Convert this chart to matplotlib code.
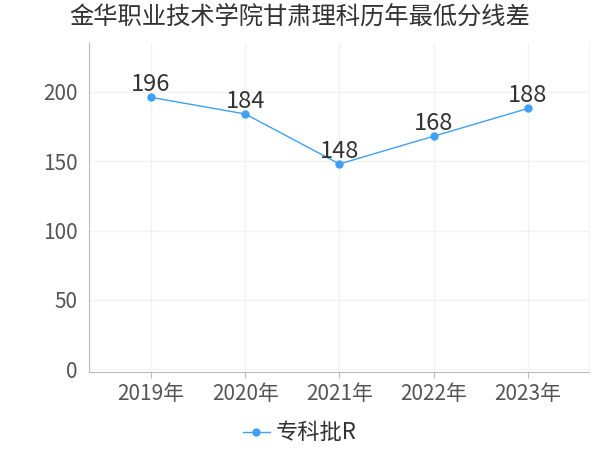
import matplotlib
matplotlib.use('Agg')
import matplotlib.pyplot as plt

plt.rcParams['font.family'] = ['Noto Sans CJK SC', 'DejaVu Sans']

# Data
years = ['2019年', '2020年', '2021年', '2022年', '2023年']
scores = [196, 184, 148, 168, 188]
series_name = '专科批R'
title = '金华职业技术学院甘肃理科历年最低分线差'

line_color = '#3fa0f5'

fig = plt.figure(figsize=(6, 4.5), dpi=100)
ax = fig.add_axes([0.148, 0.173, 0.834, 0.731])

x = list(range(len(years)))
ax.plot(x, scores, color=line_color, linewidth=1, marker='o', markersize=5,
        label=series_name, zorder=3)

# Value Labels
for xi, v in zip(x, scores):
    ax.annotate(str(v), (xi, v), xytext=(0, 1), textcoords='offset points',
                ha='center', va='bottom', fontsize=17, color='#333333', zorder=4)

ax.set_xlim(-0.66, 4.65)
ax.set_ylim(-2, 235)
ax.set_xticks(x)
ax.set_xticklabels(years)
ax.set_yticks([0, 50, 100, 150, 200])

ax.grid(True, color='#f2f2f2', linewidth=1)
ax.set_axisbelow(True)

ax.spines['top'].set_visible(False)
ax.spines['right'].set_color('#f2f2f2')
ax.spines['left'].set_color('#bbbbbb')
ax.spines['bottom'].set_color('#bbbbbb')

ax.tick_params(axis='x', colors='#bbbbbb', labelcolor='#555555', labelsize=15, length=4, pad=4)
ax.tick_params(axis='y', length=0, labelcolor='#555555', labelsize=15, pad=8)

fig.suptitle(title, fontsize=17.5, color='#333333', x=0.5, y=0.992)

fig.legend(loc='lower center', bbox_to_anchor=(0.5, -0.032), frameon=False,
           fontsize=16, handlelength=1.2, handletextpad=0.3,
           labelcolor='#333333')

plt.savefig('out.png', dpi=100)
plt.close()
